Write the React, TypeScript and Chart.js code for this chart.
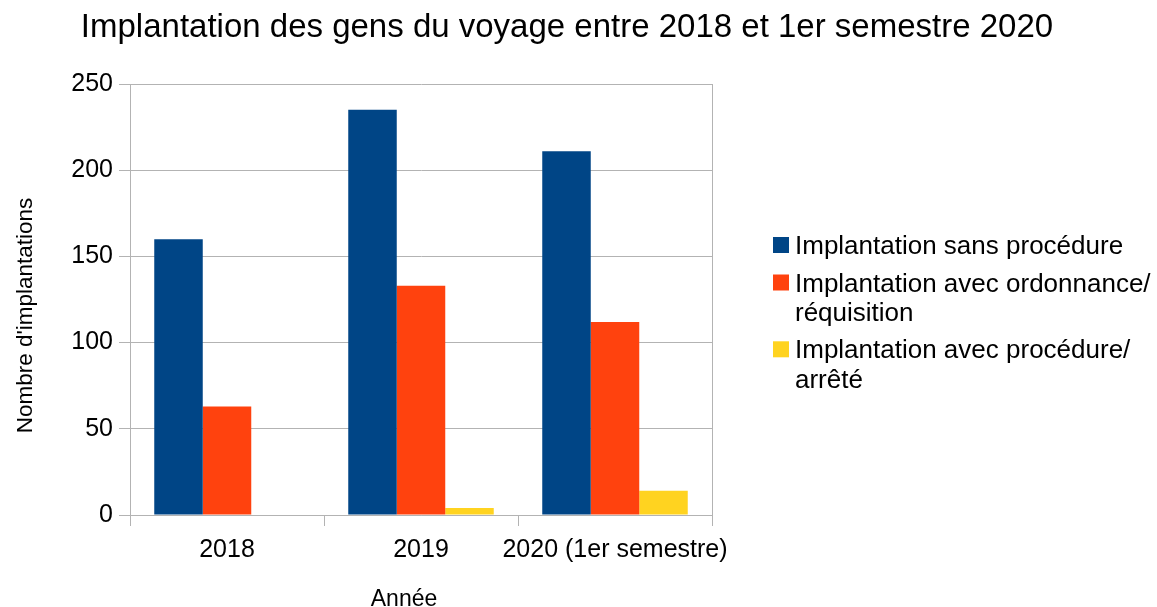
import React, { useEffect, useRef } from "react";
import { Chart, registerables } from "chart.js";

Chart.register(...registerables);

const chartTitle = "Implantation des gens du voyage entre 2018 et 1er semestre 2020";
const categories = ["2018", "2019", "2020 (1er semestre)"];
const seriesNames = [
  ["Implantation sans procédure"],
  ["Implantation avec ordonnance/", "réquisition"],
  ["Implantation avec procédure/", "arrêté"],
];
const sansProcedure = [160, 235, 211];
const avecOrdonnance = [63, 133, 112];
const avecProcedure = [0, 4, 14];
const seriesColors = ["#004586", "#ff420e", "#ffd320"];
const yTicks = [0, 50, 100, 150, 200, 250];
const xAxisTitle = "Année";
const yAxisTitle = "Nombre d'implantations";

const FONT = "'Liberation Sans', Arial, sans-serif";
const GRID = "#b3b3b3";

const overlayPlugin = {
  id: "overlay",
  afterDraw(chart: any) {
    const ctx = chart.ctx as CanvasRenderingContext2D;
    const a = chart.chartArea;
    ctx.save();
    ctx.fillStyle = "#000";
    // axis titles
    ctx.font = `23px ${FONT}`;
    ctx.textAlign = "center";
    ctx.textBaseline = "alphabetic";
    ctx.fillText(xAxisTitle, (a.left + a.right) / 2 - 17, chart.height - 1);
    ctx.save();
    ctx.font = `22.5px ${FONT}`;
    ctx.translate(32, (a.top + a.bottom) / 2 + 16);
    ctx.rotate(-Math.PI / 2);
    ctx.fillText(yAxisTitle, 0, 0);
    ctx.restore();
    // legend
    ctx.font = `26px ${FONT}`;
    ctx.textAlign = "left";
    let baseline = a.top + 170;
    chart.data.datasets.forEach((ds: any, i: number) => {
      const lines = seriesNames[i];
      ctx.fillStyle = ds.backgroundColor;
      ctx.fillRect(a.right + 61, baseline - 17, 16, 16);
      ctx.fillStyle = "#000";
      lines.forEach((ln, j) => {
        ctx.fillText(ln, a.right + 83, baseline + j * 29.3);
      });
      baseline += (lines.length - 1) * 29.3 + 37.5;
    });
    ctx.restore();
  },
};

export default function App() {
  const ref = useRef<HTMLCanvasElement | null>(null);
  useEffect(() => {
    if (!ref.current) return;
    Chart.defaults.font.family = FONT;
    Chart.defaults.color = "#000";
    const chart = new Chart(ref.current, {
      type: "bar",
      data: {
        labels: categories,
        datasets: [
          { label: seriesNames[0].join(" "), data: sansProcedure, backgroundColor: seriesColors[0] },
          { label: seriesNames[1].join(" "), data: avecOrdonnance, backgroundColor: seriesColors[1] },
          { label: seriesNames[2].join(" "), data: avecProcedure, backgroundColor: seriesColors[2] },
        ],
      },
      options: {
        animation: false,
        responsive: true,
        maintainAspectRatio: false,
        datasets: { bar: { categoryPercentage: 0.75, barPercentage: 1 } },
        layout: { padding: { top: 8, right: 23, left: 0, bottom: 0 } },
        plugins: {
          legend: { display: false },
          tooltip: { enabled: false },
          title: {
            display: true,
            text: chartTitle,
            color: "#000",
            font: { size: 33, weight: "normal", family: FONT },
            padding: { top: 0, bottom: 36.4 },
          },
        },
        scales: {
          x: {
            offset: true,
            grid: {
              offset: true,
              color: (c: any) => (c.type !== "tick" || c.index === 0 ? GRID : "rgba(0,0,0,0)"),
              tickColor: GRID,
              tickLength: 11,
            },
            border: { color: GRID },
            ticks: { font: { size: 25 }, color: "#000", padding: 9, maxRotation: 0, autoSkip: false },
            afterFit: (s: any) => {
              s.height = 92;
            },
          },
          y: {
            min: 0,
            max: 250,
            afterBuildTicks: (s: any) => {
              s.ticks = yTicks.map((v) => ({ value: v }));
            },
            grid: { color: GRID, tickLength: 11 },
            border: { color: GRID },
            ticks: { font: { size: 25 }, color: "#000", padding: 6 },
            afterFit: (s: any) => {
              s.width = 130;
            },
          },
          spacer: {
            type: "linear",
            axis: "y",
            position: "right",
            display: true,
            grid: { display: false },
            border: { display: false },
            ticks: { display: false },
            afterFit: (s: any) => {
              s.width = 422;
            },
          },
        },
      },
      plugins: [overlayPlugin],
    } as any);
    return () => chart.destroy();
  }, []);
  return (
    <div style={{ position: "fixed", left: 0, top: 0, width: 1157, height: 607, background: "#fff" }}>
      <canvas ref={ref} />
    </div>
  );
}
